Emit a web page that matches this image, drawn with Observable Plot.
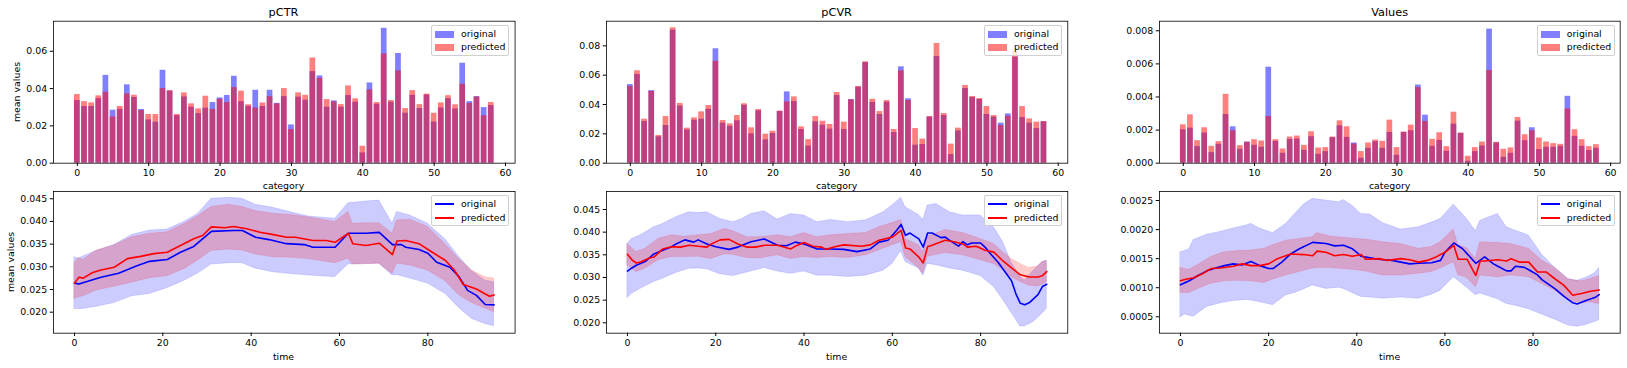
<!DOCTYPE html>
<html><head><meta charset="utf-8">
<script src="https://cdn.jsdelivr.net/npm/d3@7"></script>
<script src="https://cdn.jsdelivr.net/npm/@observablehq/plot@0.6"></script>
<style>
body{margin:0;background:#fff;font-family:"DejaVu Sans",sans-serif;}
#root{position:relative;width:1627px;height:368px;overflow:hidden;background:#fff;}
.abs{position:absolute;}
.title{font-size:11.3px;color:#000;transform:translate(-50%,-50%);white-space:nowrap;}
.lab{font-size:9.4px;color:#000;transform:translate(-50%,-50%);white-space:nowrap;}
.vlab{font-size:9.4px;color:#000;transform:translate(-50%,-50%) rotate(-90deg);white-space:nowrap;}
.legend{box-sizing:border-box;border:1px solid #d0d0d0;border-radius:2px;background:rgba(255,255,255,0.8);font-size:9.4px;color:#000;}
.legend .row{position:absolute;left:0;height:12px;width:100%;}
.legend .sw{position:absolute;left:3px;width:19px;}
.legend .tx{position:absolute;left:29px;top:0;line-height:12px;}
</style></head><body><div id="root"></div>
<script>
// ---------------- data ----------------
const categories = d3.range(59);
const ctrOrig = [.0336,.0304,.0304,.0346,.0471,.0284,.0289,.0420,.0352,.0288,.0232,.0220,.0498,.0386,.0255,.0355,.0300,.0266,.0295,.0325,.0350,.0363,.0466,.0330,.0305,.0391,.0304,.0391,.0321,.0357,.0205,.0354,.0338,.0491,.0468,.0300,.0334,.0300,.0363,.0327,.0055,.0430,.0316,.0723,.0327,.0588,.0268,.0364,.0293,.0366,.0221,.0296,.0346,.0291,.0536,.0330,.0357,.0298,.0309];
const ctrPred = [.0368,.0330,.0323,.0361,.0380,.0248,.0304,.0371,.0364,.0282,.0261,.0261,.0400,.0389,.0261,.0377,.0318,.0291,.0359,.0288,.0343,.0325,.0405,.0386,.0313,.0296,.0323,.0357,.0318,.0400,.0180,.0377,.0364,.0564,.0455,.0341,.0329,.0314,.0414,.0345,.0091,.0393,.0325,.0586,.0336,.0495,.0293,.0389,.0314,.0370,.0268,.0323,.0362,.0313,.0423,.0320,.0355,.0254,.0325];
const cvrOrig = [.0536,.0605,.0284,.0495,.0180,.0257,.0907,.0389,.0227,.0293,.0300,.0368,.0780,.0273,.0252,.0289,.0395,.0200,.0357,.0159,.0202,.0353,.0486,.0420,.0230,.0116,.0282,.0259,.0232,.0461,.0230,.0434,.0518,.0686,.0414,.0332,.0416,.0209,.0657,.0439,.0123,.0127,.0314,.0727,.0325,.0059,.0220,.0509,.0448,.0434,.0332,.0314,.0273,.0336,.0723,.0311,.0273,.0236,.0282];
const cvrPred = [.0523,.0630,.0300,.0489,.0189,.0318,.0923,.0407,.0239,.0309,.0350,.0393,.0695,.0291,.0268,.0325,.0405,.0241,.0366,.0198,.0218,.0355,.0418,.0452,.0248,.0161,.0318,.0286,.0264,.0482,.0280,.0432,.0523,.0691,.0436,.0352,.0427,.0230,.0630,.0427,.0236,.0164,.0318,.0816,.0339,.0130,.0239,.0530,.0455,.0441,.0386,.0325,.0257,.0320,.0764,.0386,.0302,.0280,.0284];
const valOrig = [.00202,.00212,.00100,.00182,.00064,.00114,.00294,.00220,.00084,.00128,.00108,.00096,.00580,.00132,.00060,.00144,.00146,.00078,.00160,.00054,.00070,.00154,.00226,.00156,.00122,.00030,.00090,.00130,.00090,.00186,.00048,.00186,.00196,.00472,.00290,.00102,.00138,.00072,.00236,.00180,.00012,.00070,.00104,.00810,.00122,.00036,.00060,.00254,.00136,.00214,.00082,.00096,.00096,.00102,.00404,.00162,.00102,.00076,.00090];
const valPred = [.00232,.00292,.00136,.00214,.00102,.00130,.00416,.00196,.00106,.00126,.00142,.00134,.00282,.00142,.00086,.00158,.00164,.00108,.00190,.00092,.00094,.00158,.00256,.00220,.00116,.00070,.00122,.00140,.00132,.00260,.00094,.00188,.00230,.00456,.00252,.00144,.00184,.00100,.00308,.00182,.00042,.00094,.00128,.00560,.00126,.00084,.00092,.00276,.00172,.00196,.00152,.00128,.00118,.00114,.00328,.00202,.00142,.00100,.00112];

// time series: [time, value] ; bands: [time, low, high]
const ctrOrigMean = [[0,.0264],[1,.0262],[6,.0277],[10,.0286],[14,.0302],[17,.0312],[21,.0316],[24,.0332],[27,.0345],[31,.0378],[36,.0380],[38,.0380],[41,.0365],[44,.0360],[48,.0351],[52,.0349],[54,.0343],[59,.0343],[62,.0374],[66,.0374],[69,.0376],[72,.0349],[74,.0349],[75,.0343],[78,.0338],[80,.0330],[82,.0310],[85,.0299],[87,.0279],[89,.0248],[91,.0237],[93,.0217],[95,.0216]];
const ctrPredMean = [[0,.0264],[1,.0277],[2,.0275],[4,.0287],[6,.0293],[9,.0299],[12,.0318],[15,.0323],[18,.0329],[21,.0332],[24,.0347],[27,.0362],[29,.0369],[31,.0388],[34,.0386],[36,.0389],[39,.0384],[42,.0376],[45,.0371],[48,.0365],[50,.0365],[54,.0358],[57,.0358],[59,.0354],[62,.0374],[63,.0351],[66,.0347],[69,.0352],[72,.0327],[73,.0357],[75,.0358],[78,.0351],[81,.0332],[84,.0314],[86,.0293],[88,.0261],[91,.0251],[93,.0240],[94,.0235],[95,.0238]];
const ctrOrigBand = [[0,.0207,.0321],[1,.0207,.0318],[2,.0207,.0323],[5,.0212,.0335],[9,.0220,.0348],[13,.0235,.0370],[17,.0240,.0380],[21,.0253,.0382],[25,.0270,.0400],[28,.0285,.0417],[31,.0305,.0450],[35,.0308,.0452],[38,.0308,.0450],[41,.0296,.0437],[45,.0288,.0430],[49,.0284,.0420],[53,.0281,.0411],[59,.0277,.0406],[62,.0305,.0440],[63,.0305,.0441],[66,.0306,.0444],[69,.0307,.0446],[72,.0281,.0395],[73,.0282,.0421],[76,.0274,.0413],[80,.0263,.0395],[84,.0240,.0360],[87,.0210,.0323],[90,.0185,.0290],[93,.0174,.0270],[95,.0169,.0266]];
const ctrPredBand = [[0,.0229,.0308],[1,.0233,.0320],[2,.0235,.0315],[5,.0248,.0336],[9,.0256,.0347],[13,.0265,.0365],[17,.0275,.0373],[21,.0279,.0376],[25,.0296,.0395],[28,.0314,.0412],[31,.0335,.0432],[35,.0338,.0437],[38,.0336,.0432],[41,.0327,.0423],[45,.0321,.0417],[49,.0320,.0414],[53,.0317,.0409],[59,.0308,.0399],[62,.0318,.0421],[63,.0305,.0395],[66,.0306,.0396],[69,.0307,.0396],[72,.0284,.0373],[73,.0307,.0402],[76,.0303,.0404],[80,.0292,.0388],[84,.0268,.0350],[87,.0238,.0318],[90,.0220,.0292],[93,.0208,.0277],[95,.0200,.0274]];

const cvrOrigMean = [[0,.0314],[1,.0321],[2,.0327],[4,.0335],[6,.0352],[8,.0360],[10,.0368],[11,.0374],[13,.0383],[15,.0378],[16,.0383],[18,.0374],[20,.0368],[23,.0362],[25,.0367],[28,.0379],[31,.0385],[34,.0371],[36,.0370],[38,.0378],[40,.0374],[43,.0363],[46,.0363],[49,.0362],[52,.0357],[55,.0363],[57,.0378],[59,.0382],[61,.0404],[62,.0417],[63,.0393],[64,.0398],[66,.0385],[67,.0367],[68,.0398],[69,.0398],[71,.0388],[72,.0389],[73,.0382],[75,.0369],[76,.0379],[77,.0372],[78,.0376],[80,.0376],[81,.0367],[82,.0355],[84,.0333],[87,.0293],[88,.0264],[89,.0243],[90,.0240],[91,.0244],[93,.0262],[94,.0280],[95,.0285]];
const cvrPredMean = [[0,.0351],[1,.0339],[2,.0332],[3,.0334],[5,.0343],[6,.0345],[8,.0363],[10,.0368],[12,.0367],[14,.0371],[16,.0369],[18,.0367],[19,.0374],[21,.0383],[23,.0384],[25,.0374],[27,.0367],[29,.0367],[31,.0371],[34,.0371],[37,.0363],[38,.0369],[40,.0377],[42,.0369],[44,.0367],[45,.0362],[47,.0368],[49,.0372],[53,.0369],[55,.0372],[57,.0382],[60,.0389],[62,.0404],[63,.0365],[64,.0363],[66,.0345],[67,.0332],[68,.0368],[69,.0371],[72,.0382],[74,.0379],[76,.0374],[77,.0367],[79,.0369],[81,.0360],[83,.0356],[85,.0337],[87,.0321],[89,.0306],[91,.0301],[93,.0301],[94,.0304],[95,.0313]];
const cvrOrigBand = [[0,.0255,.0374],[1,.0264,.0385],[3,.0275,.0393],[6,.0290,.0411],[8,.0297,.0418],[11,.0310,.0433],[14,.0319,.0444],[16,.0320,.0442],[18,.0318,.0444],[21,.0307,.0429],[24,.0303,.0422],[26,.0308,.0429],[28,.0313,.0440],[31,.0321,.0446],[34,.0313,.0428],[37,.0308,.0440],[40,.0313,.0437],[43,.0304,.0422],[46,.0304,.0427],[50,.0301,.0422],[54,.0304,.0426],[58,.0315,.0444],[60,.0330,.0459],[62,.0358,.0476],[63,.0334,.0455],[66,.0320,.0438],[67,.0304,.0427],[68,.0330,.0459],[70,.0327,.0462],[73,.0320,.0444],[76,.0315,.0437],[80,.0303,.0437],[83,.0279,.0411],[85,.0252,.0380],[87,.0222,.0333],[89,.0192,.0301],[90,.0192,.0293],[92,.0202,.0315],[94,.0220,.0334],[95,.0231,.0337]];
const cvrPredBand = [[0,.0327,.0374],[2,.0312,.0356],[4,.0319,.0363],[7,.0338,.0385],[10,.0345,.0393],[13,.0345,.0390],[16,.0346,.0393],[19,.0341,.0396],[22,.0351,.0407],[24,.0350,.0402],[27,.0343,.0389],[30,.0342,.0389],[34,.0349,.0393],[37,.0341,.0389],[40,.0345,.0398],[43,.0343,.0389],[46,.0345,.0393],[50,.0343,.0396],[54,.0349,.0398],[57,.0360,.0411],[60,.0371,.0420],[62,.0378,.0427],[63,.0345,.0385],[66,.0321,.0371],[67,.0308,.0356],[68,.0346,.0390],[72,.0354,.0405],[76,.0349,.0398],[80,.0338,.0385],[83,.0330,.0374],[85,.0317,.0356],[87,.0301,.0341],[89,.0290,.0330],[91,.0282,.0321],[93,.0280,.0324],[94,.0284,.0334],[95,.0290,.0337]];

const valOrigMean = [[0,.00105],[2,.00112],[4,.00121],[6,.00129],[8,.00134],[10,.00138],[12,.00141],[14,.00139],[16,.00145],[18,.00138],[20,.00133],[21,.00133],[23,.00144],[25,.00158],[27,.00167],[30,.00178],[33,.00176],[35,.00172],[37,.00173],[39,.00167],[40,.00161],[41,.00154],[44,.00150],[46,.00148],[48,.00147],[50,.00144],[52,.00141],[54,.00142],[57,.00143],[59,.00147],[60,.00161],[62,.00177],[64,.00167],[67,.00142],[69,.00153],[71,.00141],[72,.00137],[74,.00129],[75,.00129],[76,.00137],[78,.00135],[79,.00131],[81,.00122],[82,.00114],[85,.00098],[87,.00085],[89,.00074],[90,.00072],[92,.00078],[94,.00083],[95,.00088]];
const valPredMean = [[0,.00112],[1,.00114],[3,.00117],[5,.00124],[7,.00133],[9,.00134],[12,.00137],[14,.00141],[16,.00138],[18,.00138],[20,.00141],[22,.00150],[25,.00158],[28,.00157],[30,.00155],[31,.00163],[33,.00161],[35,.00155],[37,.00157],[39,.00154],[41,.00157],[42,.00149],[45,.00150],[47,.00147],[50,.00150],[52,.00148],[54,.00144],[56,.00147],[58,.00153],[60,.00161],[62,.00173],[63,.00149],[65,.00149],[67,.00121],[68,.00146],[69,.00146],[72,.00148],[74,.00146],[75,.00150],[77,.00144],[79,.00144],[81,.00127],[83,.00127],[85,.00115],[87,.00104],[89,.00087],[91,.00090],[93,.00094],[95,.00096]];
const valOrigBand = [[0,.00049,.00161],[1,.00054,.00163],[2,.00052,.00166],[3,.00050,.00182],[6,.00067,.00191],[9,.00073,.00196],[12,.00077,.00202],[15,.00079,.00207],[16,.00078,.00210],[18,.00075,.00202],[21,.00070,.00194],[24,.00087,.00210],[26,.00091,.00227],[28,.00097,.00243],[30,.00104,.00253],[33,.00098,.00250],[36,.00100,.00247],[37,.00098,.00251],[39,.00091,.00241],[41,.00084,.00227],[43,.00083,.00226],[46,.00081,.00211],[50,.00083,.00200],[54,.00081,.00204],[57,.00088,.00212],[59,.00095,.00218],[62,.00118,.00243],[65,.00100,.00218],[67,.00087,.00197],[68,.00090,.00215],[72,.00080,.00227],[74,.00072,.00204],[76,.00069,.00198],[79,.00063,.00190],[82,.00054,.00157],[85,.00045,.00134],[88,.00035,.00115],[90,.00033,.00112],[92,.00036,.00117],[94,.00041,.00125],[95,.00044,.00134]];
const valPredBand = [[0,.00091,.00134],[2,.00091,.00131],[4,.00098,.00139],[7,.00107,.00153],[10,.00111,.00161],[13,.00112,.00163],[16,.00111,.00164],[19,.00108,.00167],[21,.00114,.00173],[24,.00121,.00181],[27,.00127,.00184],[30,.00133,.00187],[31,.00134,.00194],[34,.00134,.00188],[37,.00132,.00186],[40,.00130,.00184],[42,.00128,.00183],[46,.00121,.00178],[50,.00121,.00175],[54,.00124,.00167],[57,.00127,.00170],[59,.00133,.00178],[62,.00144,.00200],[63,.00122,.00173],[65,.00117,.00168],[67,.00101,.00150],[68,.00121,.00178],[72,.00118,.00177],[75,.00121,.00175],[79,.00118,.00167],[82,.00107,.00147],[85,.00095,.00134],[88,.00078,.00114],[91,.00073,.00111],[93,.00075,.00115],[95,.00072,.00120]];

// ticks / labels
const titles = ["pCTR", "pCVR", "Values"];
const barXTicks = [0,10,20,30,40,50,60];
const timeXTicks = [0,20,40,60,80];
const barYTicks = [[0,0.02,0.04,0.06],[0,0.02,0.04,0.06,0.08],[0,0.002,0.004,0.006,0.008]];
const barYFormats = [".2f",".2f",".3f"];
const timeYTicks = [[0.020,0.025,0.030,0.035,0.040,0.045],[0.020,0.025,0.030,0.035,0.040,0.045],[0.0005,0.0010,0.0015,0.0020,0.0025]];
const timeYFormats = [".3f",".3f",".4f"];
const legendLabels = ["original","predicted"];

// ---------------- layout ----------------
const root = document.getElementById("root");
const cols = [{L:52.7,R:514.3},{L:606,R:1067.3},{L:1159.3,R:1620}];
const topRow = {svgTop:0, h:180, T:20.7, B:162.7};
const botRow = {svgTop:180, h:188, T:191, B:332.7};
const barSets = [[ctrOrig,ctrPred],[cvrOrig,cvrPred],[valOrig,valPred]];
const barMax = [0.0725, 0.0922, 0.00817];
const timeSets = [
  [ctrOrigBand, ctrPredBand, ctrOrigMean, ctrPredMean, [0.01537,0.0466]],
  [cvrOrigBand, cvrPredBand, cvrOrigMean, cvrPredMean, [0.01771,0.04897]],
  [valOrigBand, valPredBand, valOrigMean, valPredMean, [0.000218,0.002655]]
];
const FONT = "DejaVu Sans, sans-serif";

function place(el, left, top) {
  el.style.position = "absolute";
  el.style.left = left + "px";
  el.style.top = top + "px";
  root.appendChild(el);
}
function div(cls, text, left, top) {
  const d = document.createElement("div");
  d.className = "abs " + cls;
  d.textContent = text;
  d.style.left = left + "px";
  d.style.top = top + "px";
  root.appendChild(d);
  return d;
}
function legend(col, frameTop, kind) {
  const w = 78, h = 31;
  const box = document.createElement("div");
  box.className = "abs legend";
  box.style.left = (col.R - 5.3 - w) + "px";
  box.style.top = (frameTop + 4.3) + "px";
  box.style.width = w + "px";
  box.style.height = h + "px";
  const colors = kind === "bar" ? ["rgba(0,0,255,0.5)","rgba(255,0,0,0.5)"] : ["blue","red"];
  legendLabels.forEach((lab, k) => {
    const row = document.createElement("div");
    row.className = "row";
    row.style.top = (2 + k * 13.4) + "px";
    const sw = document.createElement("div");
    sw.className = "sw";
    sw.style.background = colors[k];
    if (kind === "bar") { sw.style.top = "2.5px"; sw.style.height = "7px"; }
    else { sw.style.top = "5.2px"; sw.style.height = "1.7px"; }
    const tx = document.createElement("div");
    tx.className = "tx";
    tx.textContent = lab;
    row.appendChild(sw); row.appendChild(tx);
    box.appendChild(row);
  });
  root.appendChild(box);
}

cols.forEach((col, c) => {
  const left = col.L - 52, width = (col.R - col.L) + 52 + 6;
  const [orig, pred] = barSets[c];
  const yTop = barMax[c] * 1.05;
  const barChart = Plot.plot({
    width, height: topRow.h,
    marginLeft: 52, marginRight: 6,
    marginTop: topRow.T - topRow.svgTop, marginBottom: topRow.svgTop + topRow.h - topRow.B,
    x: {domain: [-3.34, 61.34], label: null},
    y: {domain: [0, yTop], label: null},
    style: {fontFamily: FONT, fontSize: "9.4px", color: "#000", background: "transparent", overflow: "visible"},
    marks: [
      Plot.rect(categories, {x1: i => i - 0.4, x2: i => i + 0.4, y1: i => 0, y2: i => orig[i], fill: "blue", fillOpacity: 0.5}),
      Plot.rect(categories, {x1: i => i - 0.4, x2: i => i + 0.4, y1: i => 0, y2: i => pred[i], fill: "red", fillOpacity: 0.5}),
      Plot.axisX({ticks: barXTicks, tickSize: 3.3, tickPadding: 3, tickFormat: d => String(d), label: null}),
      Plot.axisY({ticks: barYTicks[c], tickSize: 3.3, tickPadding: 3, tickFormat: d3.format(barYFormats[c]), label: null}),
      Plot.frame({stroke: "#000", strokeWidth: 0.8})
    ]
  });
  place(barChart, left, topRow.svgTop);

  const [ob, pb, om, pm, ydom] = timeSets[c];
  const lineChart = Plot.plot({
    width, height: botRow.h,
    marginLeft: 52, marginRight: 6,
    marginTop: botRow.T - botRow.svgTop, marginBottom: botRow.svgTop + botRow.h - botRow.B,
    x: {domain: [-4.75, 99.75], label: null},
    y: {domain: ydom, label: null},
    style: {fontFamily: FONT, fontSize: "9.4px", color: "#000", background: "transparent", overflow: "visible"},
    marks: [
      Plot.areaY(ob, {x: d => d[0], y1: d => d[1], y2: d => d[2], fill: "blue", fillOpacity: 0.2, stroke: "blue", strokeOpacity: 0.15, strokeWidth: 0.8}),
      Plot.areaY(pb, {x: d => d[0], y1: d => d[1], y2: d => d[2], fill: "red", fillOpacity: 0.2, stroke: "red", strokeOpacity: 0.15, strokeWidth: 0.8}),
      Plot.line(om, {x: d => d[0], y: d => d[1], stroke: "blue", strokeWidth: 1.6}),
      Plot.line(pm, {x: d => d[0], y: d => d[1], stroke: "red", strokeWidth: 1.6}),
      Plot.axisX({ticks: timeXTicks, tickSize: 3.3, tickPadding: 3, tickFormat: d => String(d), label: null}),
      Plot.axisY({ticks: timeYTicks[c], tickSize: 3.3, tickPadding: 3, tickFormat: d3.format(timeYFormats[c]), label: null}),
      Plot.frame({stroke: "#000", strokeWidth: 0.8})
    ]
  });
  place(lineChart, left, botRow.svgTop);

  const cx = (col.L + col.R) / 2;
  div("title", titles[c], cx, 12.3);
  div("lab", "category", cx, 185);
  div("lab", "time", cx, 355.5);
  legend(col, topRow.T, "bar");
  legend(col, botRow.T, "line");
});
div("vlab", "mean values", 16, 91.7);
div("vlab", "mean values", 10, 261.8);
</script>
</body></html>
